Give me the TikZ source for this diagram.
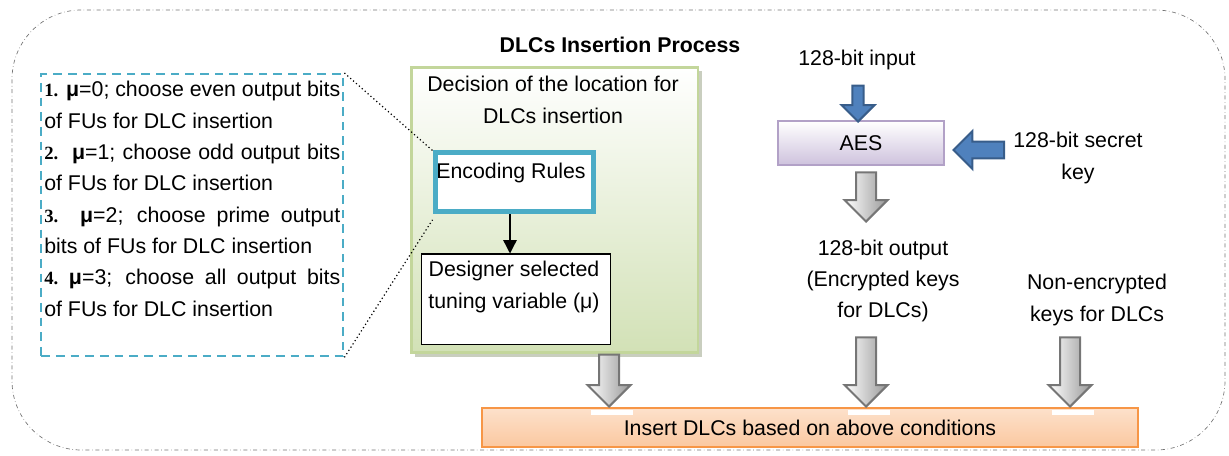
\documentclass[tikz,border=0pt]{standalone}
\usepackage{fontspec}
\setmainfont{Liberation Sans}
\newfontfamily\numfont{Liberation Serif}
\usepackage{tikz}
\usetikzlibrary{arrows.meta, positioning, calc, shapes, shadows}
\definecolor{tealline}{RGB}{75,172,198}
\definecolor{greenline}{RGB}{195,214,155}
\definecolor{greenfill}{RGB}{210,225,182}
\definecolor{aesline}{RGB}{178,161,199}
\definecolor{aesfill}{RGB}{206,194,221}
\definecolor{keyblue}{RGB}{79,129,189}
\definecolor{keyblueline}{RGB}{56,93,138}
\definecolor{insline}{RGB}{247,150,70}
\definecolor{insfill}{RGB}{251,200,160}
\definecolor{arrowgray}{RGB}{118,118,118}
\newcommand{\numb}[1]{{\numfont\bfseries\fontsize{14}{15}\selectfont #1}}
\newcommand{\fullline}[1]{\makebox[222pt][s]{#1}}

\begin{document}
\begin{tikzpicture}[x=0.75pt, y=-0.75pt, font=\fontsize{16}{23.5}\selectfont,
  greenbox/.style={draw=greenline, line width=2pt, top color=white, bottom color=greenfill,
    drop shadow={shadow xshift=3pt, shadow yshift=-3pt, fill=black!30!greenfill}},
  rulesbox/.style={draw=tealline, line width=1.8pt, dash pattern=on 6.5pt off 4.5pt},
  graydown/.style={single arrow, draw=arrowgray, line width=1.5pt, left color=white,
    right color=black!40, rotate=-90, inner xsep=0pt, inner ysep=6.75pt,
    single arrow head extend=8.6pt, anchor=tip},
  bluearrow/.style={single arrow, draw=keyblueline, line width=1.5pt, fill=keyblue,
    inner xsep=0pt, anchor=tip}]
  \useasboundingbox (0,0) rectangle (1229,456);
  \draw[black!55, dash dot, line width=0.5pt, rounded corners=52pt] (12,10) rectangle (1225,450);

  \node[rulesbox, anchor=north west, minimum width=226.5pt, minimum height=211.5pt] (rules) at (40,73) {};
  \node[anchor=north west, inner sep=0pt, align=left] (rulestext) at (44,81) {%
    \fullline{\numb{1.} \textbf{μ}=0; choose even output bits}\\
    of FUs for DLC insertion\\
    \fullline{\numb{2.}\ \ \textbf{μ}=1; choose odd output bits}\\
    of FUs for DLC insertion\\
    \fullline{\numb{3.}\ \ \textbf{μ}=2; choose prime output}\\
    bits of FUs for DLC insertion\\
    \fullline{\numb{4.}\ \textbf{μ}=3; choose all output bits}\\
    of FUs for DLC insertion};

  \node[font=\fontsize{16}{19}\selectfont\bfseries] (title) at (620,45) {DLCs Insertion Process};
  \node[greenbox, anchor=north west, minimum width=215pt, minimum height=214pt] (decide) at (410,66) {};
  \node[align=center] (decidetext) at (553,100) {Decision of the location for\\DLCs insertion};
  \node[draw=tealline, fill=white, line width=3.75pt, anchor=north west, inner sep=0pt,
    minimum width=118.5pt, minimum height=44.25pt] (enc) at (432.5,150.5) {};
  \node (enctext) at (511,173) {Encoding Rules};
  \node[draw, fill=white, line width=1.1pt, anchor=north west, inner sep=0pt,
    minimum width=141.75pt, minimum height=67.5pt] (des) at (420.5,253.5) {};
  \node[align=center] (destext) at (514,287) {Designer selected\\tuning variable (μ)};
  \draw[-{Triangle[length=10pt,width=10pt]}, line width=1pt]
    ([xshift=-3pt]enc.south) -- ([xshift=-3pt]enc.south |- des.north);
  \draw[dotted, line width=0.9pt] (rules.north east) -- (enc.north west);
  \draw[dotted, line width=0.9pt] (rules.south east) -- ([yshift=-4pt]enc.south west);

  \node (input) at (857,60) {128-bit input};
  \node[draw=aesline, line width=1.1pt, top color=white, bottom color=aesfill,
    minimum width=124.5pt, minimum height=33pt] (aes) at (861,143) {AES};
  \node[bluearrow, rotate=-90, minimum height=27pt, inner ysep=3.4pt,
    single arrow head extend=8.25pt] (inarrow) at (858,123) {};
  \node[align=center] (key) at (1078,158) {128-bit secret\\key};
  \node[bluearrow, rotate=180, minimum height=38pt, inner ysep=5.6pt,
    single arrow head extend=7.9pt] (keyarrow) at (952,150) {};
  \node[graydown, minimum height=37pt] (aesout) at (866,223) {};
  \node[align=center] (output) at (883,281) {128-bit output\\(Encrypted keys\\for DLCs)};
  \node[align=center] (plain) at (1097,300) {Non-encrypted\\keys for DLCs};

  \node[draw=insline, line width=1.1pt, top color=insfill!55, bottom color=insfill,
    minimum width=492pt, minimum height=29pt] (ins) at (810,427.5) {Insert DLCs based on above conditions};
  \node[graydown, minimum height=39pt] (down1) at (609,408) {};
  \node[graydown, minimum height=52pt] (down2) at (866,408) {};
  \node[graydown, minimum height=52pt] (down3) at (1070,408) {};
  \foreach \x in {609,866,1070}
    \fill[white] (\x-18,410) rectangle (\x+24,415);
\end{tikzpicture}
\end{document}
